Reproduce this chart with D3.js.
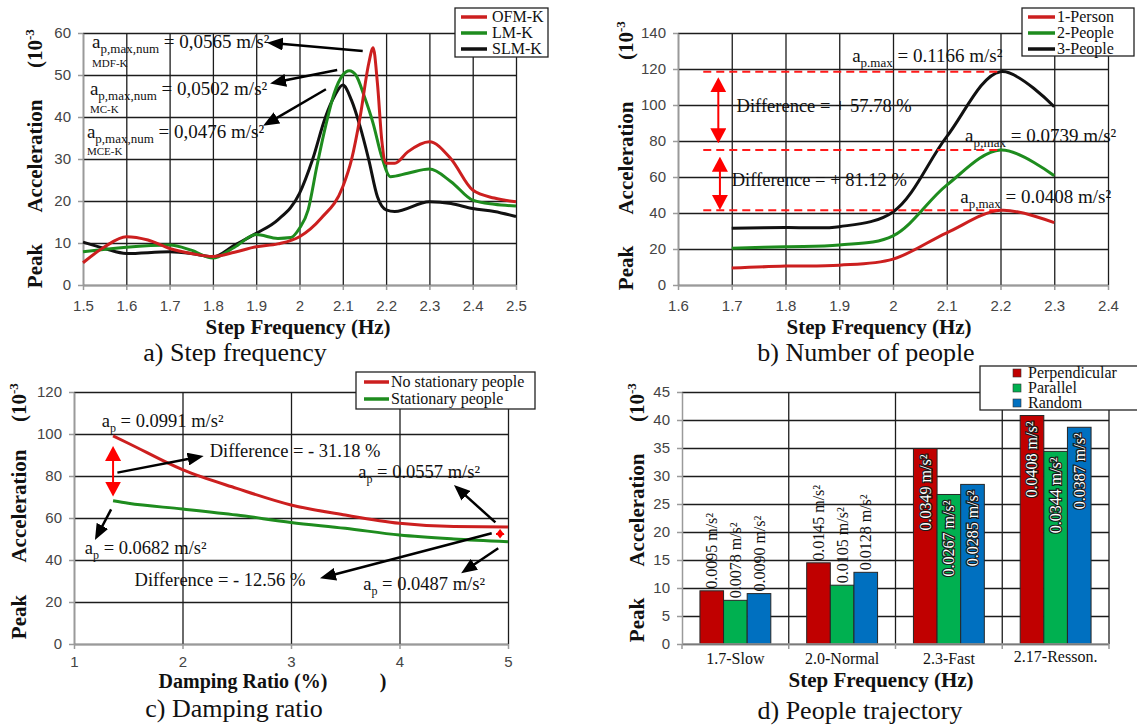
<!DOCTYPE html>
<html>
<head>
<meta charset="utf-8">
<title>Peak acceleration</title>
<script src="https://cdn.jsdelivr.net/npm/d3@7/dist/d3.min.js"></script>
<style>
  body { margin: 0; background: #fff; }
  svg text { font-family: "Liberation Serif", "Times New Roman", serif; fill: #111; white-space: pre; }
  .tk text { font-family: "Liberation Sans", Arial, sans-serif; font-size: 15px; fill: #444; }
  .tk path, .tk line { stroke: #9a9a9a; stroke-width: 1.5; }
  .grid line { stroke: #1c1c1c; stroke-width: 1.3; }
  .grid path { display: none; }
  .ttl { font-weight: bold; font-size: 21px; }
  .cap { font-size: 26px; }
  .leg text { font-size: 16px; }
</style>
</head>
<body>
<svg id="fig" width="1137" height="726"></svg>
<script>
// a) step frequency
var freqTicksA = [1.5, 1.6, 1.7, 1.8, 1.9, 2.0, 2.1, 2.2, 2.3, 2.4, 2.5];
var accTicksA = [0, 10, 20, 30, 40, 50, 60];
var ofmFreq = [1.5, 1.55, 1.6, 1.65, 1.7, 1.75, 1.8, 1.85, 1.9, 1.95, 2.0, 2.05, 2.1, 2.12, 2.14, 2.16, 2.17, 2.18, 2.19, 2.2, 2.22, 2.25, 2.3, 2.35, 2.4, 2.45, 2.5];
var ofmAcc  = [5.3, 9.1, 11.5, 10.7, 8.7, 7.5, 6.8, 7.8, 9.1, 9.8, 11.5, 15.9, 23.4, 29.8, 40, 52.8, 56.5, 48, 34.5, 29, 29, 31.7, 34.1, 30, 22.6, 20.7, 19.8];
var lmFreq  = [1.5, 1.6, 1.7, 1.75, 1.8, 1.85, 1.9, 1.95, 1.98, 2.0, 2.02, 2.04, 2.06, 2.08, 2.1, 2.115, 2.13, 2.15, 2.17, 2.19, 2.21, 2.25, 2.3, 2.35, 2.4, 2.45, 2.5];
var lmAcc   = [7.9, 9, 9.5, 8.3, 6.4, 9, 12, 11.1, 11.3, 13.5, 17.9, 28.2, 37.7, 45.6, 50, 51, 50, 44.8, 38.5, 30.5, 25.8, 26.6, 27.6, 24.6, 20.2, 19.2, 18.8];
var slmFreq = [1.5, 1.55, 1.6, 1.7, 1.75, 1.8, 1.85, 1.9, 1.95, 2.0, 2.03, 2.06, 2.08, 2.1, 2.12, 2.14, 2.16, 2.18, 2.2, 2.22, 2.3, 2.35, 2.4, 2.45, 2.5];
var slmAcc  = [10.2, 8.7, 7.5, 7.9, 7.5, 6.7, 9.5, 12.3, 15.5, 21.8, 29.8, 40, 44.8, 47.6, 44, 37.7, 29.8, 21, 17.9, 17.5, 19.8, 19.4, 18.2, 17.5, 16.3];
var modelNames = ["OFM-K", "LM-K", "SLM-K"];

// b) number of people
var freqTicksB = [1.6, 1.7, 1.8, 1.9, 2.0, 2.1, 2.2, 2.3, 2.4];
var accTicksB = [0, 20, 40, 60, 80, 100, 120, 140];
var crowdFreq = [1.7, 1.8, 1.9, 2.0, 2.1, 2.2, 2.3];
var onePerson = [9.4, 10.5, 11.0, 14.4, 29, 41.5, 34.6];
var twoPeople = [20.4, 21.3, 22.2, 27.3, 55.5, 75, 60.7];
var threePeople = [31.5, 32, 32.4, 40.6, 82.4, 118.5, 99];
var crowdNames = ["1-Person", "2-People", "3-People"];

// c) damping ratio
var dampTicks = [1, 2, 3, 4, 5];
var accTicksC = [0, 20, 40, 60, 80, 100, 120];
var dampRatio = [1.36, 1.5, 2, 2.5, 3, 3.5, 4, 4.5, 5];
var noStationary = [99.1, 95.6, 83, 74.1, 66.2, 61.4, 57.5, 55.9, 55.7];
var withStationary = [68.2, 67, 64.3, 61.4, 57.9, 55.1, 51.9, 50, 48.7];
var standNames = ["No stationary people", "Stationary people"];

// d) people trajectory
var trajCats = ["1.7-Slow", "2.0-Normal", "2.3-Fast", "2.17-Resson."];
var trajSeries = ["Perpendicular", "Parallel", "Random"];
var perpAcc = [9.5, 14.5, 34.9, 40.8];
var paraAcc = [7.8, 10.5, 26.7, 34.4];
var randAcc = [9.0, 12.8, 28.5, 38.7];
var accTicksD = [0, 5, 10, 15, 20, 25, 30, 35, 40, 45];

var RED = "#cc1f1f", GREEN = "#1e8c1e", BLACK = "#111";

var svg = d3.select("#fig");
svg.append("rect").attr("width", 1137).attr("height", 726).attr("fill", "#fff");
var defs = svg.append("defs");

function marker(id, color, len, wid) {
  defs.append("marker").attr("id", id).attr("markerUnits", "userSpaceOnUse")
    .attr("viewBox", "0 0 " + len + " " + wid).attr("markerWidth", len).attr("markerHeight", wid)
    .attr("refX", len / 2).attr("refY", wid / 2).attr("orient", "auto-start-reverse")
    .append("path").attr("d", "M0,0L" + len + "," + (wid / 2) + "L0," + wid + "Z").attr("fill", color);
}
marker("headK", "#000", 16, 13);
marker("headR", "#ff0000", 15, 16);
marker("headRs", "#ff0000", 6, 9);

// line with arrow head(s), ends given in pixels
function arrowLine(g, x1, y1, x2, y2, head, len, color, w, both) {
  var dx = x2 - x1, dy = y2 - y1, L = Math.hypot(dx, dy), ux = dx / L, uy = dy / L, c = len / 2;
  g.append("line")
    .attr("x1", both ? x1 + ux * c : x1).attr("y1", both ? y1 + uy * c : y1)
    .attr("x2", x2 - ux * c).attr("y2", y2 - uy * c)
    .attr("stroke", color).attr("stroke-width", w)
    .attr("marker-end", "url(#" + head + ")")
    .attr("marker-start", both ? "url(#" + head + ")" : null);
}

// text with subscript parts
function richText(g, x, y, size, parts) {
  var t = g.append("text").attr("x", x).attr("y", y).attr("font-size", size);
  var shift = 0;
  parts.forEach(function (p) {
    var want = p.sub || 0;
    var s = t.append("tspan").text(p.t).attr("dy", want - shift);
    shift = want;
    if (p.size) s.attr("font-size", p.size);
  });
  return t;
}

function fmtNum(d) { return String(+d.toFixed(2)); }

function linePanel(o) {
  var g = svg.append("g");
  var x = d3.scaleLinear().domain(o.xDom).range(o.xPx);
  var y = d3.scaleLinear().domain(o.yDom).range(o.yPx);
  var h = o.yPx[0] - o.yPx[1], w = o.xPx[1] - o.xPx[0];
  g.append("g").attr("class", "grid").attr("transform", "translate(0," + o.yPx[0] + ")")
    .call(d3.axisBottom(x).tickValues(o.xTicks).tickSize(-h).tickFormat(""));
  g.append("g").attr("class", "grid").attr("transform", "translate(" + o.xPx[0] + ",0)")
    .call(d3.axisLeft(y).tickValues(o.yTicks).tickSize(-w).tickFormat(""));
  g.append("g").attr("class", "tk").attr("transform", "translate(0," + o.yPx[0] + ")")
    .call(d3.axisBottom(x).tickValues(o.xTicks).tickSize(5).tickSizeOuter(0).tickPadding(o.xPad || 10).tickFormat(fmtNum));
  g.append("g").attr("class", "tk").attr("transform", "translate(" + o.xPx[0] + ",0)")
    .call(d3.axisLeft(y).tickValues(o.yTicks).tickSize(5).tickSizeOuter(0).tickPadding(7));
  return { g: g, x: x, y: y };
}

function curve(p, xs, ys, color, kind) {
  var line = d3.line().x(function (d) { return p.x(d[0]); }).y(function (d) { return p.y(d[1]); })
    .curve(kind || d3.curveMonotoneX);
  p.g.append("path").datum(d3.zip(xs, ys)).attr("d", line)
    .attr("fill", "none").attr("stroke", color).attr("stroke-width", 3).attr("stroke-linejoin", "round");
}

function yTitle(x, yPeak, yAcc, yExp) {
  svg.append("text").attr("class", "ttl").attr("text-anchor", "middle")
    .attr("transform", "translate(" + x + "," + yPeak + ") rotate(-90)").text("Peak");
  svg.append("text").attr("class", "ttl").attr("text-anchor", "middle")
    .attr("transform", "translate(" + x + "," + yAcc + ") rotate(-90)").text("Acceleration");
  var t = svg.append("text").attr("class", "ttl").attr("text-anchor", "start")
    .attr("transform", "translate(" + x + "," + yExp + ") rotate(-90)");
  t.append("tspan").text("(10");
  t.append("tspan").attr("dy", -8).attr("font-size", 13).text("-3");
}

function label(cls, x, y, txt) {
  return svg.append("text").attr("class", cls).attr("text-anchor", "middle").attr("x", x).attr("y", y).text(txt);
}

function lineLegend(bx, by, bw, bh, lx1, lx2, tx, rows, names, colors) {
  var g = svg.append("g").attr("class", "leg");
  g.append("rect").attr("x", bx).attr("y", by).attr("width", bw).attr("height", bh)
    .attr("fill", "#fff").attr("stroke", "#222").attr("stroke-width", 1.3);
  names.forEach(function (n, i) {
    g.append("line").attr("x1", lx1).attr("x2", lx2).attr("y1", rows[i]).attr("y2", rows[i])
      .attr("stroke", colors[i]).attr("stroke-width", 3.5);
    g.append("text").attr("x", tx).attr("y", rows[i]).attr("dy", "0.33em").text(n);
  });
  return g;
}

// ---------- a) Step frequency ----------
var pa = linePanel({ xDom: [1.5, 2.5], xPx: [83, 516], yDom: [0, 60], yPx: [285, 33], xTicks: freqTicksA, yTicks: accTicksA });
curve(pa, slmFreq, slmAcc, BLACK);
curve(pa, lmFreq, lmAcc, GREEN);
curve(pa, ofmFreq, ofmAcc, RED);

var annA = [
  { x: 1.521, y: 56.4, val: " = 0,0565 m/s²", tag: "MDF-K", ty: 51.9, from: [2.146, 55.7], to: [1.925, 57.7] },
  { x: 1.516, y: 45.2, val: " = 0,0502 m/s²", tag: "MC-K", ty: 41.0, from: [2.087, 51.2], to: [1.932, 48.0] },
  { x: 1.509, y: 35.0, val: " = 0,0476 m/s²", tag: "MCE-K", ty: 31.0, from: [2.061, 46.6], to: [1.916, 37.9] }
];
annA.forEach(function (a) {
  richText(pa.g, pa.x(a.x), pa.y(a.y), 19, [{ t: "a" }, { t: "p,max,num", sub: 5, size: 13 }, { t: a.val }]);
  pa.g.append("text").attr("x", pa.x(a.x)).attr("y", pa.y(a.ty)).attr("font-size", 11).text(a.tag);
  arrowLine(pa.g, pa.x(a.from[0]), pa.y(a.from[1]), pa.x(a.to[0]), pa.y(a.to[1]), "headK", 16, "#000", 2.5, false);
});
lineLegend(455, 8, 93, 49, 461, 487, 492, [17, 33, 49], modelNames, [RED, GREEN, BLACK]);
yTitle(42, 266, 156, 68);
label("ttl", 298, 334, "Step Frequency (Hz)");
label("cap", 235, 361, "a) Step frequency");

// ---------- b) Number of people ----------
var pb = linePanel({ xDom: [1.6, 2.4], xPx: [678, 1108], yDom: [0, 140], yPx: [285, 33], xTicks: freqTicksB, yTicks: accTicksB });
curve(pb, crowdFreq, onePerson, RED, d3.curveCatmullRom);
curve(pb, crowdFreq, twoPeople, GREEN, d3.curveCatmullRom);
curve(pb, crowdFreq, threePeople, BLACK, d3.curveCatmullRom);

[onePerson, twoPeople, threePeople].forEach(function (s) {
  var i = d3.maxIndex(s);
  pb.g.append("line").attr("x1", pb.x(1.647)).attr("x2", pb.x(crowdFreq[i]))
    .attr("y1", pb.y(s[i])).attr("y2", pb.y(s[i]))
    .attr("stroke", "#ff1a1a").attr("stroke-width", 2).attr("stroke-dasharray", "8,5");
});
arrowLine(pb.g, pb.x(1.675), pb.y(115.4), pb.x(1.675), pb.y(78.7), "headR", 15, "#ff0000", 2, true);
arrowLine(pb.g, pb.x(1.678), pb.y(71.3), pb.x(1.678), pb.y(41.7), "headR", 15, "#ff0000", 2, true);
pb.g.append("text").attr("x", pb.x(1.709)).attr("y", pb.y(96.3)).attr("font-size", 18.5).text("Difference = + 57.78 %");
pb.g.append("text").attr("x", pb.x(1.700)).attr("y", pb.y(55.2)).attr("font-size", 18.5).text("Difference = + 81.12 %");
richText(pb.g, pb.x(1.924), pb.y(124), 19, [{ t: "a" }, { t: "p.max", sub: 5, size: 13 }, { t: " = 0.1166 m/s²" }]);
richText(pb.g, pb.x(2.134), pb.y(79.6), 19, [{ t: "a" }, { t: "p;max", sub: 5, size: 13 }, { t: " = 0.0739 m/s²" }]);
richText(pb.g, pb.x(2.125), pb.y(45.6), 19, [{ t: "a" }, { t: "p,max", sub: 5, size: 13 }, { t: " = 0.0408 m/s²" }]);
lineLegend(1022, 8, 112, 48, 1028, 1055, 1057, [17, 33, 49], crowdNames, [RED, GREEN, BLACK]);
yTitle(633, 268, 158, 60);
label("ttl", 879, 334, "Step Frequency (Hz)");
label("cap", 866, 361, "b) Number of people");

// ---------- c) Damping ratio ----------
var pc = linePanel({ xDom: [1, 5], xPx: [74, 508], yDom: [0, 120], yPx: [644, 392], xTicks: dampTicks, yTicks: accTicksC, xPad: 7 });
curve(pc, dampRatio, noStationary, RED);
curve(pc, dampRatio, withStationary, GREEN);

arrowLine(pc.g, pc.x(1.36), pc.y(94.3), pc.x(1.36), pc.y(70.2), "headR", 15, "#ff0000", 2, true);
arrowLine(pc.g, pc.x(4.927), pc.y(54.8), pc.x(4.927), pc.y(50.2), "headRs", 6, "#ff0000", 1.5, true);
var arrowsC = [
  [1.40, 81.6, 2.195, 89.5],
  [4.884, 57.9, 4.502, 75.7],
  [1.342, 64.1, 1.193, 49.5],
  [4.85, 52.7, 3.267, 31.3],
  [4.91, 45.6, 4.568, 33.7]
];
arrowsC.forEach(function (a) {
  arrowLine(pc.g, pc.x(a[0]), pc.y(a[1]), pc.x(a[2]), pc.y(a[3]), "headK", 16, "#000", 2.5, false);
});
richText(pc.g, pc.x(1.256), pc.y(103.5), 18.5, [{ t: "a" }, { t: "p", sub: 5, size: 12 }, { t: " = 0.0991 m/s²" }]);
richText(pc.g, pc.x(3.62), pc.y(78.9), 18.5, [{ t: "a" }, { t: "p", sub: 5, size: 12 }, { t: " = 0.0557 m/s²" }]);
richText(pc.g, pc.x(1.10), pc.y(42.9), 18.5, [{ t: "a" }, { t: "p", sub: 5, size: 12 }, { t: " = 0.0682 m/s²" }]);
richText(pc.g, pc.x(3.666), pc.y(25.7), 18.5, [{ t: "a" }, { t: "p", sub: 5, size: 12 }, { t: " = 0.0487 m/s²" }]);
pc.g.append("text").attr("x", pc.x(2.25)).attr("y", pc.y(88.9)).attr("font-size", 18.5).text("Difference = - 31.18 %");
pc.g.append("text").attr("x", pc.x(1.558)).attr("y", pc.y(27.8)).attr("font-size", 18.5).text("Difference = - 12.56 %");
lineLegend(356, 372, 179, 37, 364, 389, 391, [382, 399], standNames, [RED, GREEN]).selectAll("text").attr("font-size", 15.5);
yTitle(26, 617, 506, 422);
label("ttl", 243, 688, "Damping Ratio (%)").style("font-size", "20px");
label("ttl", 383, 688, ")").style("font-size", "20px");
label("cap", 234, 717, "c) Damping ratio");

// ---------- d) People trajectory ----------
var gd = svg.append("g");
var xd0 = d3.scaleBand().domain(trajCats).range([682, 1109]).paddingInner(0.336).paddingOuter(0.168);
var xd1 = d3.scaleBand().domain(trajSeries).range([0, xd0.bandwidth()]);
var yd = d3.scaleLinear().domain([0, 45]).range([644, 392]);
var trajColors = ["#c00000", "#00b050", "#0070c0"];
var trajVals = [perpAcc, paraAcc, randAcc];

gd.append("g").attr("class", "grid").attr("transform", "translate(682,0)")
  .call(d3.axisLeft(yd).tickValues(accTicksD).tickSize(-(1109 - 682)).tickFormat(""));
var bounds = d3.range(1, trajCats.length + 1).map(function (i) { return xd0.range()[0] + i * xd0.step(); });
gd.append("g").attr("class", "grid").selectAll("line").data(bounds).enter().append("line")
  .attr("x1", function (d) { return d; }).attr("x2", function (d) { return d; })
  .attr("y1", yd(0)).attr("y2", yd(45));

trajCats.forEach(function (c, i) {
  trajSeries.forEach(function (s, j) {
    var v = trajVals[j][i];
    var bx = xd0(c) + xd1(s), by = yd(v), cx = bx + xd1.bandwidth() / 2;
    gd.append("rect").attr("x", bx).attr("y", by).attr("width", xd1.bandwidth()).attr("height", yd(0) - by)
      .attr("fill", trajColors[j]).attr("stroke", "#262626").attr("stroke-width", 1);
    var inside = v > 20;
    var t = gd.append("text")
      .attr("transform", "translate(" + cx + "," + (inside ? by + 6 : by - 2) + ") rotate(-90)")
      .attr("text-anchor", inside ? "end" : "start").attr("dominant-baseline", "central")
      .attr("font-size", 16).text((v / 1000).toFixed(4) + " m/s²");
    if (inside) t.style("fill", "#fff").attr("stroke", "#1a1a1a").attr("stroke-width", 2.4).attr("paint-order", "stroke");
  });
});

gd.append("g").attr("class", "tk").attr("transform", "translate(682,0)")
  .call(d3.axisLeft(yd).tickValues(accTicksD).tickSize(5).tickSizeOuter(0).tickPadding(7));
var xAx = gd.append("g").attr("class", "tk").attr("transform", "translate(0,644)");
xAx.append("line").attr("x1", 682).attr("x2", 1109).attr("y1", 0).attr("y2", 0);
xAx.selectAll("line.b").data([682].concat(bounds)).enter().append("line").attr("class", "b")
  .attr("x1", function (d) { return d; }).attr("x2", function (d) { return d; }).attr("y1", 0).attr("y2", 5);
xAx.selectAll("text.c").data(trajCats).enter().append("text").attr("class", "c")
  .attr("x", function (d) { return xd0(d) + xd0.bandwidth() / 2; })
  .attr("y", function (d, i) { return i === trajCats.length - 1 ? 18 : 20; })
  .attr("text-anchor", "middle")
  .style("font-family", "'Liberation Serif', serif").style("font-size", "16px").style("fill", "#111")
  .text(function (d) { return d; });

var legD = svg.append("g").attr("class", "leg");
legD.append("rect").attr("x", 980).attr("y", 366).attr("width", 170).attr("height", 44)
  .attr("fill", "#fff").attr("stroke", "#222").attr("stroke-width", 1.3);
trajSeries.forEach(function (s, j) {
  var ry = [373, 388, 403][j];
  legD.append("rect").attr("x", 1013).attr("y", ry - 4).attr("width", 8).attr("height", 8)
    .attr("fill", trajColors[j]).attr("stroke", "#333").attr("stroke-width", 0.6);
  legD.append("text").attr("x", 1028).attr("y", ry).attr("dy", "0.33em").attr("font-size", 13).text(s);
});
yTitle(644, 620, 510, 422);
label("ttl", 881, 687, "Step Frequency (Hz)");
label("cap", 860, 719, "d) People trajectory");
</script>
</body>
</html>
